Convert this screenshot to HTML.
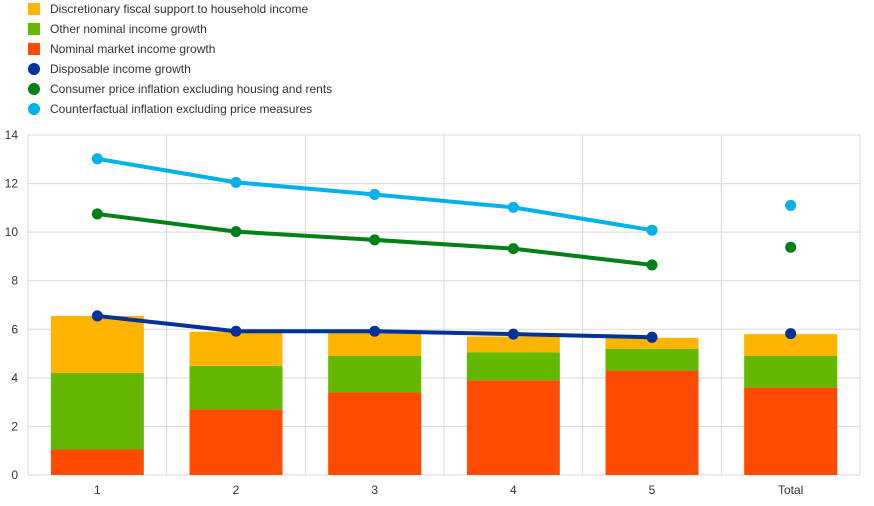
<!DOCTYPE html>
<html><head><meta charset="utf-8"><style>
body{margin:0;background:#fff;font-family:"Liberation Sans",sans-serif;}
svg text{font-family:"Liberation Sans",sans-serif;}
</style></head><body>
<svg id="chart" width="874" height="501" xmlns="http://www.w3.org/2000/svg"></svg>
<script>
const categories=["1","2","3","4","5","Total"];
const marketIncome=[1.05,2.7,3.4,3.9,4.3,3.6];
const otherIncome=[3.15,1.8,1.5,1.15,0.9,1.3];
const fiscalSupport=[2.35,1.4,0.95,0.65,0.45,0.9];
const disposableIncome=[6.55,5.92,5.92,5.8,5.67,5.82];
const cpiExHousing=[10.75,10.02,9.68,9.32,8.65,9.38];
const counterfactual=[13.02,12.05,11.55,11.02,10.08,11.1];
const yTicks=[0,2,4,6,8,10,12,14];

const svg=document.getElementById('chart');
const NS='http://www.w3.org/2000/svg';
const X0=28,X1=860,Y0=475,Y1=135,YMAX=14;
const band=(X1-X0)/categories.length;
const xc=i=>X0+band*(i+0.5);
const y=v=>Y0-(v/YMAX)*(Y0-Y1);
function mk(tag,attrs,parent){const e=document.createElementNS(NS,tag);for(const k in attrs)e.setAttribute(k,attrs[k]);(parent||svg).appendChild(e);return e;}

// gridlines
yTicks.forEach(t=>{
  const l=mk('line',{x1:X0,x2:X1,y1:y(t),y2:y(t),stroke:'#d9d9d9','stroke-width':1});
  
  
  const tx=mk('text',{x:18,y:y(t)+4,'text-anchor':'end','font-size':12,fill:'#333'});
  tx.textContent=t;
  
  
});
for(let i=0;i<=categories.length;i++){
  const gx=X0+band*i;
  const l=mk('line',{x1:gx,x2:gx,y1:Y1,y2:Y0,stroke:'#d9d9d9','stroke-width':1});
  
  
}
categories.forEach((c,i)=>{
  const tx=mk('text',{x:xc(i),y:494,'text-anchor':'middle','font-size':12,fill:'#333'});
  tx.textContent=c;
  
  
});

// bars
const bw=93;
const segs=[[marketIncome,'#ff4b00','bar-market-income'],[otherIncome,'#65b800','bar-other-income'],[fiscalSupport,'#ffb400','bar-fiscal-support']];
categories.forEach((c,i)=>{
  let base=0;
  segs.forEach(([arr,col,name])=>{
    const v=arr[i];
    const r=mk('rect',{x:xc(i)-bw/2,y:y(base+v),width:bw,height:y(base)-y(base+v),fill:col});
    
    
    base+=v;
  });
});

// lines
function series(arr,col,name){
  const pts=arr.slice(0,5).map((v,i)=>xc(i)+','+y(v)).join(' ');
  const pl=mk('polyline',{points:pts,fill:'none',stroke:col,'stroke-width':4,'stroke-linejoin':'round'});
  
  
  arr.forEach((v,i)=>{
    const ci=mk('circle',{cx:xc(i),cy:y(v),r:5.5,fill:col});
    
    
  });
}
series(counterfactual,'#00b1ea','counterfactual-inflation');
series(cpiExHousing,'#008016','cpi-ex-housing');
series(disposableIncome,'#003299','disposable-income');

// legend
const legend=[['rect','#ffb400','Discretionary fiscal support to household income'],
['rect','#65b800','Other nominal income growth'],
['rect','#ff4b00','Nominal market income growth'],
['circle','#003299','Disposable income growth'],
['circle','#008016','Consumer price inflation excluding housing and rents'],
['circle','#00b1ea','Counterfactual inflation excluding price measures']];
const g=mk('g',{});


legend.forEach(([shape,col,label],i)=>{
  const cy=9+i*20;
  let m;
  if(shape==='rect') m=mk('rect',{x:28,y:cy-6,width:12,height:12,fill:col},g);
  else m=mk('circle',{cx:34,cy:cy,r:6,fill:col},g);
  
  
  const t=mk('text',{x:50,y:cy+4,'font-size':12,fill:'#333'},g);
  t.textContent=label;
  
  
});
</script>
</body></html>
